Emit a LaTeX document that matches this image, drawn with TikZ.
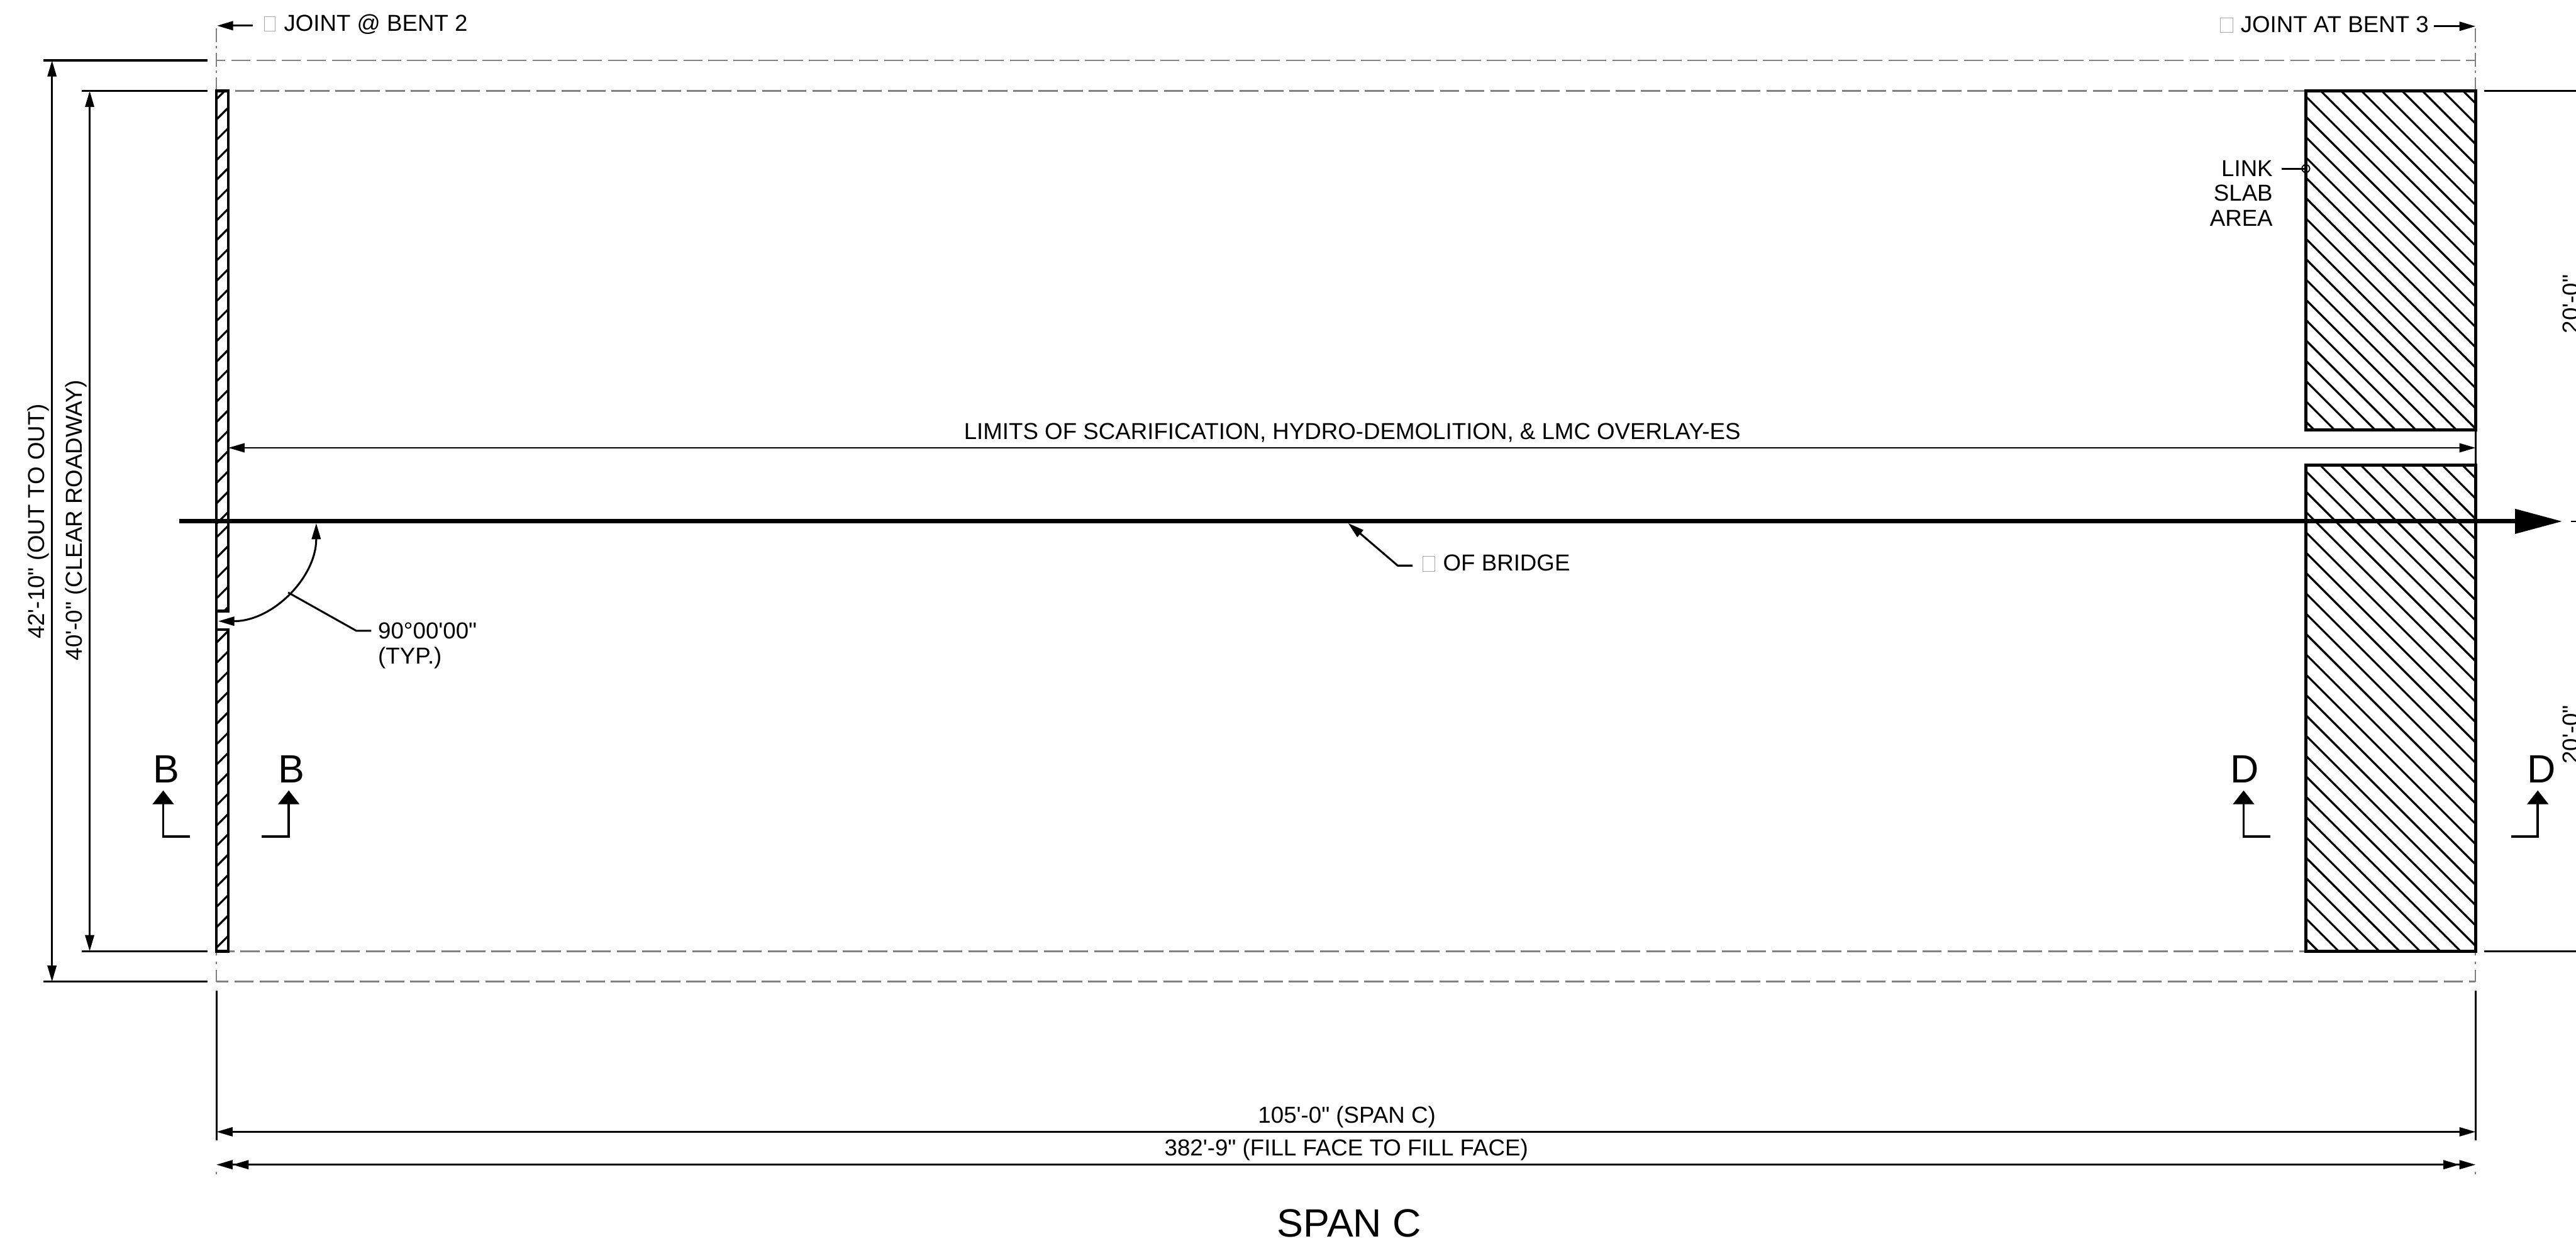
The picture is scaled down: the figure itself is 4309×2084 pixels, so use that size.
\documentclass[tikz,border=0pt]{standalone}
\usepackage{fontspec}
\setmainfont[Ligatures=TeXOff]{Liberation Sans}
\usetikzlibrary{arrows.meta}
\definecolor{dwggray}{RGB}{128,128,128}
\newcommand\tofu[2]{\textcolor{black!35}{\fboxrule=0.4pt\fboxsep=0pt\fbox{\rule{#1}{0pt}\rule{0pt}{#2}}}}
\tikzset{
  x=0.5pt,y=-0.5pt,
  dimtip/.tip={Triangle[length=13.5pt,width=7.5pt]},
  sectip/.tip={Triangle[length=11.5pt,width=17.5pt]},
  cltip/.tip={Triangle[length=39.5pt,width=20pt]},
  lbl/.style={font=\fontsize{19.3}{20.75}\selectfont,inner sep=0pt,anchor=base west},
  lblc/.style={lbl,anchor=base},
  big/.style={font=\fontsize{33}{36}\selectfont,inner sep=0pt,anchor=base},
  thin dim/.style={line width=1.4pt},
  exten/.style={line width=1.6pt},
  dashg/.style={draw=dwggray,line width=1.5pt,dash pattern=on 16pt off 5pt},
  dashv/.style={draw=dwggray,line width=1.2pt},
  hatchl/.style={line width=1.7pt},
  outline/.style={line width=2.4pt,line join=miter},
  seclin/.style={line width=1.9pt,line join=miter}
}
\begin{document}
\begin{tikzpicture}
\useasboundingbox (0,0) rectangle (4309,2084);
\fill[white] (0,0) rectangle (4309,2084);
% key points
\coordinate (JL) at (362,101);   \coordinate (JR) at (4141,101);
\coordinate (IL) at (362,152);   \coordinate (IR) at (4141,152);
\coordinate (KL) at (362,1591);  \coordinate (KR) at (4141,1591);
\coordinate (OL) at (362,1642);  \coordinate (OR) at (4141,1642);
% gray outlines
\draw[dashg,dash phase=8.5pt] (JL) -- (JR);
\draw[dashg,dash phase=6pt] (OL) -- (OR);
\draw[dashg] (393,152) -- (3857,152);
\draw[dashg,dash phase=11pt] (382,1591) -- (3857,1591);
\foreach \xx in {362,4141}{
  \draw[dashv,dash pattern=on 11.5pt off 3.5pt on 2pt off 3.5pt] (\xx,47) -- (\xx,152);
  \draw[dashv,dash pattern=on 2.5pt off 5pt on 2.5pt off 4.5pt on 10pt off 10pt] (\xx,1593) -- (\xx,1642);
  \draw[exten] (\xx,1657) -- (\xx,1907);
  \draw[dashv] (\xx,1960) -- (\xx,1964);
}
% left strip
\begin{scope}
  \clip (362,152) rectangle (382,1022);
  \foreach \c in {528,562,596,630,663,697,731,764,798,832,866,899,933,967,1000,1034,1068,1102,1136,1170,1204,1238,1261,1295,1329,1363,1397}
    \draw[hatchl] (340,{\c-340}) -- (400,{\c-400});
\end{scope}
\begin{scope}
  \clip (362,1053) rectangle (382,1591);
  \foreach \k in {0,...,15}
    \draw[hatchl] (340,{1947-34*\k-340}) -- (400,{1947-34*\k-400});
\end{scope}
\draw[outline] (362,152) rectangle (382,1022);
\draw[outline] (362,1053) rectangle (382,1591);
\draw[outline] (362,1022) -- (362,1053);
% link slab hatching
\begin{scope}
  \clip (3857,152) rectangle (4141,719);
  \foreach \k in {0,...,24}
    \draw[hatchl] (3857,{3857-3152-34*\k}) -- (4141,{4141-3152-34*\k});
\end{scope}
\begin{scope}
  \clip (3857,778) rectangle (4141,1591);
  \foreach \k in {0,...,31}
    \draw[hatchl] (3857,{3857-2287-34*\k}) -- (4141,{4141-2287-34*\k});
\end{scope}
\draw[outline] (3857,152) rectangle (4141,719);
\draw[outline] (3857,778) rectangle (4141,1591);
\draw[exten] (4141,719) -- (4141,778);
% extension lines
\draw[exten] (73,101) -- (347,101);
\draw[exten] (137,152) -- (347,152);
\draw[exten] (137,1591) -- (347,1591);
\draw[exten] (73,1642) -- (347,1642);
\draw[exten] (4155,152) -- (4309,152);
\draw[exten] (4155,1591) -- (4309,1591);
% overall vertical dims
\draw[thin dim,{dimtip}-{dimtip}] (87,101) -- (87,1642);
\draw[thin dim,{dimtip}-{dimtip}] (150,152) -- (150,1591);
\node[lblc,rotate=90] (d42) at (74,872) {42'-10" (OUT TO OUT)};
\node[lblc,rotate=90] (d40) at (137,870) {40'-0" (CLEAR ROADWAY)};
% clipped dims at right edge
\node[lbl,rotate=90] (r20a) at (4314,558) {20'-0"};
\node[lbl,rotate=90] (r20b) at (4314,1278) {20'-0"};
% joint labels
\draw[exten,-{dimtip}] (423,43) -- (363,43);
\node[lbl] (jb2) at (441,52) {\tofu{9pt}{12pt}\hspace{7pt}JOINT @ BENT 2};
\draw[exten,-{dimtip}] (4071,44) -- (4141,44);
\node[lbl] (jb3) at (3713,54) {\tofu{10pt}{12pt}\hspace{6.5pt}JOINT AT BENT 3};
% link slab
\node[lbl,anchor=base east,align=right] (lnk) at (3802,378) {LINK\\SLAB\\AREA};
\coordinate (lnkend) at (3817,282);
\node[draw,circle,line width=1pt,minimum size=6.5pt,inner sep=0pt] (lnkc) at (3857,282) {};
\draw[exten] (lnkend) -- (lnkc.center);
% limits
\draw[thin dim,{dimtip}-{dimtip}] (382,749) -- (4141,749);
\node[lblc] (lim) at (2262,735) {LIMITS OF SCARIFICATION, HYDRO-DEMOLITION, \& LMC OVERLAY-ES};
% centre line
\draw[line width=3.6pt,-{cltip}] (300,872) -- (4286,872);
\draw[line width=1pt] (4301,872) -- (4309,872);
\coordinate (cltp) at (2255,875); \coordinate (clel) at (2338,946); \coordinate (clen) at (2363,946);
\draw[exten,{dimtip}-,line join=miter] (cltp) -- (clel) -- (clen);
\node[lbl] (clb) at (2379,955) {\tofu{9.5pt}{12pt}\hspace{7pt}OF BRIDGE};
% angle
\coordinate (angA) at (529,875); \coordinate (angB) at (365,1039);
\draw[exten,{dimtip}-{dimtip}] (angA) .. controls (529,966) and (456,1039) .. (angB);
\coordinate (angL) at (482,991); \coordinate (angE) at (596,1055); \coordinate (angF) at (621,1055);
\draw[exten] (angL) -- (angE) -- (angF);
\node[lbl,align=left] (ang) at (632,1110) {90°00'00"\\(TYP.)};
% section marks
\node[big] (bl) at (278,1309) {B};
\draw[seclin,-{sectip}] (318,1399) -- (273,1399) -- (273,1322);
\node[big] (br) at (488,1309) {B};
\draw[seclin,-{sectip}] (438,1399) -- (483,1399) -- (483,1322);
\node[big] (dl) at (3755,1309) {D};
\draw[seclin,-{sectip}] (3798,1399) -- (3753,1399) -- (3753,1322);
\node[big] (dr) at (4251,1309) {D};
\draw[seclin,-{sectip}] (4201,1399) -- (4245,1399) -- (4245,1322);
% bottom dims
\draw[thin dim,{dimtip}-{dimtip}] (362,1893) -- (4141,1893);
\draw[thin dim,{dimtip[]dimtip[]}-{dimtip[]dimtip[]}] (362,1948) -- (4141,1948);
\node[lblc] (d105) at (2253,1878) {105'-0" (SPAN C)};
\node[lblc] (d382) at (2252,1933) {382'-9" (FILL FACE TO FILL FACE)};
\node[big] (ttl) at (2257,2069) {SPAN C};
\end{tikzpicture}
\end{document}
